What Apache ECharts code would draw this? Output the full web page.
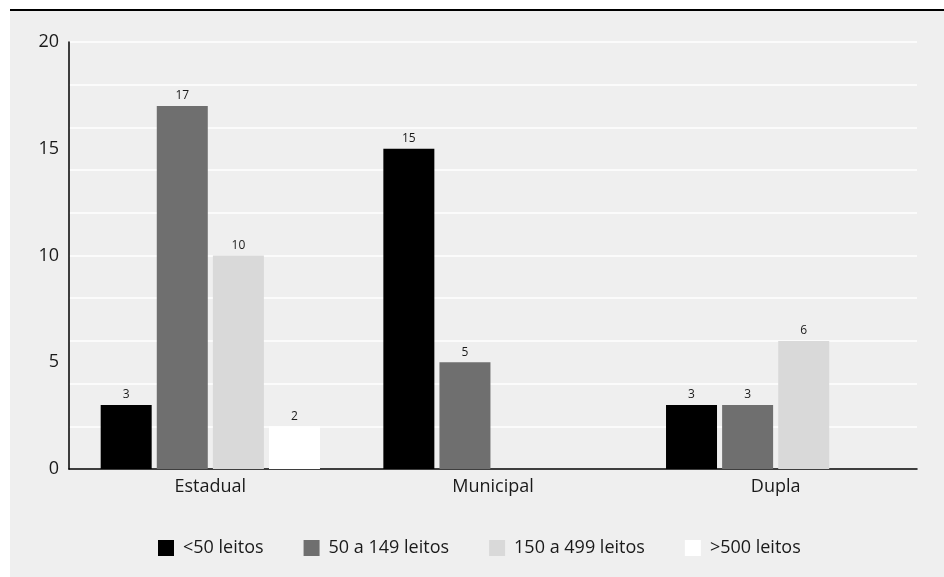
<!DOCTYPE html>
<html>
<head>
<meta charset="utf-8">
<style>
  html, body { margin: 0; padding: 0; background: #ffffff; }
  #chart { width: 944px; height: 577px; }
</style>
<script src="https://cdn.jsdelivr.net/npm/echarts@6/dist/echarts.min.js"></script>
</head>
<body>
<div id="chart"></div>
<script>
// Hospitais por esfera de gestão e porte (número de leitos)
const categories = ['Estadual', 'Municipal', 'Dupla'];
const seriesNames = ['<50 leitos', '50 a 149 leitos', '150 a 499 leitos', '>500 leitos'];
const menos50 = [3, 15, 3];
const de50a149 = [17, 5, 3];
const de150a499 = [10, null, 6];
const mais500 = [2, null, null];
const yTicks = [0, 5, 10, 15, 20];

const colors = ['#000000', '#6f6f6f', '#d9d9d9', '#ffffff'];
const FONT = '"Open Sans", sans-serif';
const TEXT = '#1a1a1a';

const chart = echarts.init(document.getElementById('chart'), null, { renderer: 'canvas' });

function barSeries(name, data, color) {
  return {
    name: name,
    type: 'bar',
    yAxisIndex: 0,
    data: data,
    barWidth: 51,
    barGap: '10%',
    itemStyle: { color: color },
    label: {
      show: true,
      position: 'top',
      distance: 4,
      fontFamily: FONT,
      fontSize: 12,
      color: TEXT
    },
    emphasis: { disabled: true }
  };
}

chart.setOption({
  animation: false,
  backgroundColor: '#ffffff',
  textStyle: { fontFamily: FONT },
  graphic: [
    { type: 'rect', z: -10, shape: { x: 10, y: 11, width: 934, height: 566 }, style: { fill: '#efefef' }, silent: true },
    { type: 'rect', z: -10, shape: { x: 10, y: 9, width: 934, height: 2 }, style: { fill: '#000000' }, silent: true }
  ],
  grid: { left: 69, top: 42, width: 848, height: 427, containLabel: false },
  legend: {
    left: 158,
    top: 539,
    padding: 0,
    itemWidth: 16,
    itemHeight: 16,
    itemGap: 40,
    icon: 'rect',
    selectedMode: false,
    data: seriesNames,
    textStyle: { fontFamily: FONT, fontSize: 18, color: TEXT, padding: [0, 0, 0, 4] }
  },
  xAxis: {
    type: 'category',
    data: categories,
    axisLine: { show: true, lineStyle: { color: '#000000', width: 1.5 } },
    axisTick: { show: false },
    axisLabel: { fontFamily: FONT, fontSize: 18, color: TEXT, margin: 9 },
    splitLine: { show: false }
  },
  yAxis: [
    {
      type: 'value',
      min: yTicks[0],
      max: yTicks[yTicks.length - 1],
      interval: yTicks[1] - yTicks[0],
      position: 'left',
      axisLine: { show: true, lineStyle: { color: '#000000', width: 1.5 } },
      axisTick: { show: false },
      axisLabel: { fontFamily: FONT, fontSize: 18, color: TEXT, margin: 10 },
      splitLine: { show: false }
    },
    {
      type: 'value',
      min: 0,
      max: 20,
      interval: 2,
      position: 'left',
      axisLine: { show: false },
      axisTick: { show: false },
      axisLabel: { show: false },
      splitLine: { show: true, lineStyle: { color: '#ffffff', width: 1.5 } }
    }
  ],
  series: [
    barSeries(seriesNames[0], menos50, colors[0]),
    barSeries(seriesNames[1], de50a149, colors[1]),
    barSeries(seriesNames[2], de150a499, colors[2]),
    barSeries(seriesNames[3], mais500, colors[3])
  ]
});
</script>
</body>
</html>
